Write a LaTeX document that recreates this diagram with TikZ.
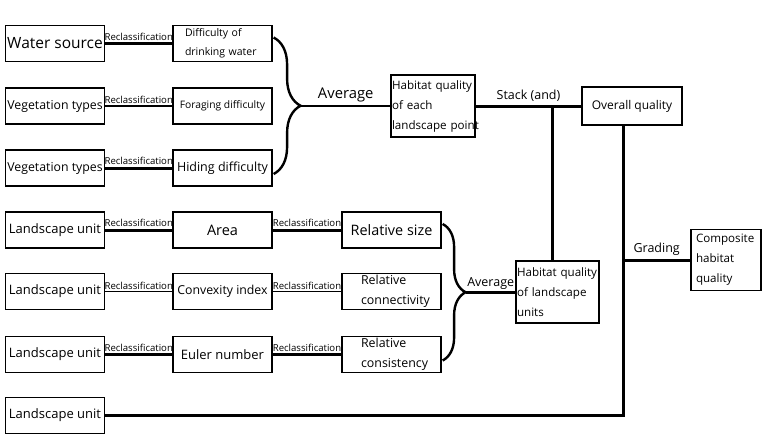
\documentclass[tikz,border=0pt]{standalone}
\usepackage{fontspec}
\setmainfont{Open Sans}
\usepackage{tikz}
\usetikzlibrary{decorations.pathreplacing}
\tikzstyle{box}=[draw, line width=1.2pt, inner sep=1pt, minimum width=99pt, minimum height=36pt, font=\fontsize{12.3}{20}\selectfont]
\tikzstyle{unitbox}=[box, font=\fontsize{13}{14}\selectfont]
\tikzstyle{twoline}=[box, align=left, text width=75pt, inner xsep=12pt, font=\fontsize{10.5}{19}\selectfont]
\tikzstyle{threeline}=[box, align=left, text width=82pt, inner xsep=1pt, minimum width=0pt, minimum height=62pt, font=\fontsize{11.6}{20}\selectfont]
\tikzstyle{thickline}=[draw=black, line width=3pt]
\tikzstyle{thinline}=[draw=black, line width=1.6pt]
\tikzstyle{reclass}=[midway, above, inner sep=1.5pt, font=\fontsize{9.6}{10}\selectfont]
\tikzstyle{steplabel}=[midway, above, inner sep=3pt, font=\fontsize{12.5}{13}\selectfont]
\tikzstyle{bracket}=[decorate, line width=2.4pt]

\begin{document}
\begin{tikzpicture}[x=1pt, y=-1pt]
		   \useasboundingbox (0,0) rectangle (768,442);
		   \begin{scope}
			   % inputs
			   \node (water) at (55,43.5)[box, font=\fontsize{15.5}{16}\selectfont] {Water source};
			   \node (veg1) at (55,106)[box] {Vegetation types};
			   \node (veg2) at (55,168)[box] {Vegetation types};
			   \node (land1) at (55,230)[unitbox] {Landscape unit};
			   \node (land2) at (55,291.5)[unitbox] {Landscape unit};
			   \node (land3) at (55,354.5)[unitbox] {Landscape unit};
			   \node (land4) at (55,415.5)[unitbox] {Landscape unit};
			   % factors
			   \node (drink) at (222.5,43.5)[twoline] {Difficulty of\\drinking water};
			   \node (forage) at (222.5,106)[box, font=\fontsize{10.3}{12}\selectfont] {Foraging difficulty};
			   \node (hide) at (222.5,168)[box, font=\fontsize{12.5}{13}\selectfont] {Hiding difficulty};
			   \node (area) at (222.5,230)[box, font=\fontsize{14.5}{15}\selectfont] {Area};
			   \node (convex) at (222.5,291.5)[box] {Convexity index};
			   \node (euler) at (222.5,354.5)[box, font=\fontsize{13}{14}\selectfont] {Euler number};
			   \node (relsize) at (391.5,230)[box, font=\fontsize{14.4}{15}\selectfont] {Relative size};
			   \node (relconn) at (391.5,291.5)[twoline, text width=61pt, inner xsep=19pt, font=\fontsize{12.4}{20}\selectfont] {Relative\\\mbox{connectivity}};
			   \node (relcons) at (391.5,354.5)[twoline, text width=61pt, inner xsep=19pt, font=\fontsize{12.4}{20}\selectfont] {Relative\\\mbox{consistency}};
			   % results
			   \node (hpoint) at (433,106)[threeline] {Habitat quality\\of each\\\mbox{landscape point}};
			   \node (hunits) at (557.5,292)[threeline, text width=81pt] {\mbox{Habitat quality}\\of landscape\\units};
			   \node (overall) at (632,106)[box, minimum width=100pt, minimum height=38pt, font=\fontsize{12}{13}\selectfont] {Overall quality};
			   \node (comp) at (726,260)[threeline, text width=60pt, inner xsep=5pt, minimum height=61pt] {Composite\\habitat\\quality};
			   \coordinate (avgtop) at (301,106);
			   \coordinate (avgbot) at (466,292);
			   \coordinate (stack) at (552,106);
			   \coordinate (gradebase) at ([xshift=-9pt]overall.south);
		   \end{scope}
		   \begin{scope}
			   \path [thickline] (water) edge node[reclass] {Reclassification} (drink);
			   \path [thinline] (veg1) edge node[reclass] {Reclassification} (forage);
			   \path [thickline] (veg2) edge node[reclass] {Reclassification} (hide);
			   \path [thickline] (land1) edge node[reclass] {Reclassification} (area);
			   \path [thinline] (land2) edge node[reclass] {Reclassification} (convex);
			   \path [thickline] (land3) edge node[reclass] {Reclassification} (euler);
			   \path [thickline] (area) edge node[reclass] {Reclassification} (relsize);
			   \path [thinline] (convex) edge node[reclass] {Reclassification} (relconn);
			   \path [thickline] (euler) edge node[reclass] {Reclassification} (relcons);
			   \draw [bracket, decoration={brace, amplitude=27pt}] ([xshift=1pt, yshift=6pt]drink.east) -- ([xshift=1pt, yshift=-6pt]hide.east);
			   \draw [bracket, decoration={brace, amplitude=23pt}] ([xshift=1pt, yshift=6pt]relsize.east) -- ([xshift=1pt, yshift=-6pt]relcons.east);
			   \path [thinline] (avgtop) edge node[steplabel, font=\fontsize{14.8}{15}\selectfont] {Average} (hpoint);
			   \path [thickline] (avgbot) edge node[steplabel, inner sep=1pt] {Average} (hunits);
			   \path [thickline] (hpoint) edge node[steplabel] {Stack (and)} (overall);
			   \draw [thickline] (stack) -- (stack |- hunits.north);
			   \draw [thickline] (land4.east) -| (gradebase);
			   \path [thickline] (comp.west -| gradebase) edge node[steplabel] {Grading} (comp.west);
		   \end{scope}
	   \end{tikzpicture}
\end{document}
